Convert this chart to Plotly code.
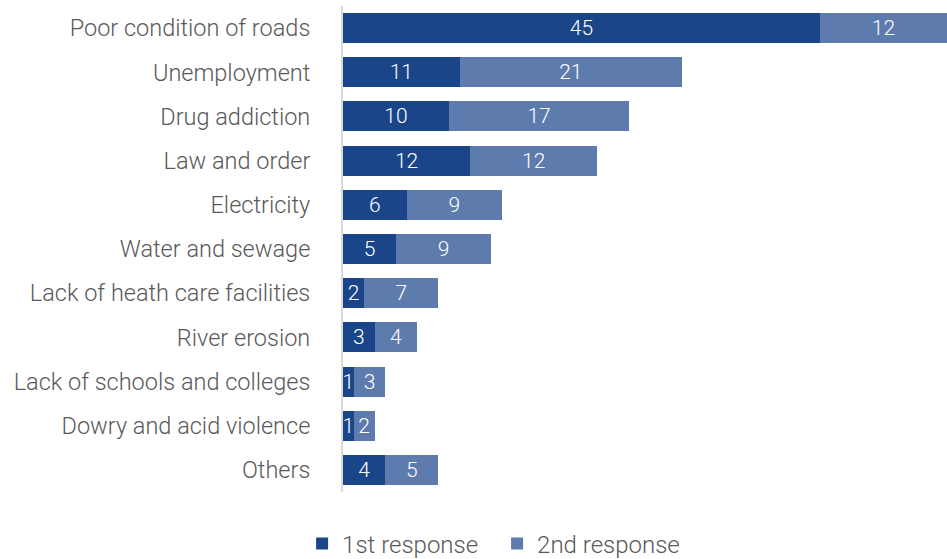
import plotly.graph_objects as go

categories = [
    "Poor condition of roads",
    "Unemployment",
    "Drug addiction",
    "Law and order",
    "Electricity",
    "Water and sewage",
    "Lack of heath care facilities",
    "River erosion",
    "Lack of schools and colleges",
    "Dowry and acid violence",
    "Others",
]
first_response = [45, 11, 10, 12, 6, 5, 2, 3, 1, 1, 4]
second_response = [12, 21, 17, 12, 9, 9, 7, 4, 3, 2, 5]

DARK = "#1B4589"
LIGHT = "#5E7BAE"
TEXT = "#595959"
FONT = "Roboto"

fig = go.Figure()
for name, vals, color in [
    ("1st response", first_response, DARK),
    ("2nd response", second_response, LIGHT),
]:
    fig.add_trace(go.Bar(
        y=categories,
        x=vals,
        name=name,
        orientation="h",
        marker=dict(color=color, line=dict(width=0)),
        text=[str(v) for v in vals],
        textposition="inside",
        insidetextanchor="middle",
        textangle=0,
        constraintext="none",
        textfont=dict(family=FONT, size=21, color="white", weight=300),
        width=0.68,
    ))

fig.update_layout(
    barmode="stack",
    width=947,
    height=559,
    margin=dict(l=343, r=0, t=6, b=67),
    paper_bgcolor="white",
    plot_bgcolor="white",
    font=dict(family=FONT, size=23, color=TEXT, weight=300),
    xaxis=dict(range=[0, 57], visible=False, fixedrange=True),
    yaxis=dict(
        autorange="reversed",
        showline=True,
        linecolor="#D9D9D9",
        linewidth=2,
        showgrid=False,
        ticks="",
        ticklabelstandoff=26,
        tickfont=dict(family=FONT, size=23.5, color=TEXT, weight=300),
    ),
    legend=dict(
        orientation="h",
        xref="container",
        yref="container",
        x=0.319,
        xanchor="left",
        y=0.027,
        yanchor="middle",
        entrywidth=150,
        font=dict(family=FONT, size=24, color=TEXT, weight=300),
        itemsizing="constant",
        traceorder="normal",
    ),
    showlegend=True,
)

fig.write_html("out.html")
